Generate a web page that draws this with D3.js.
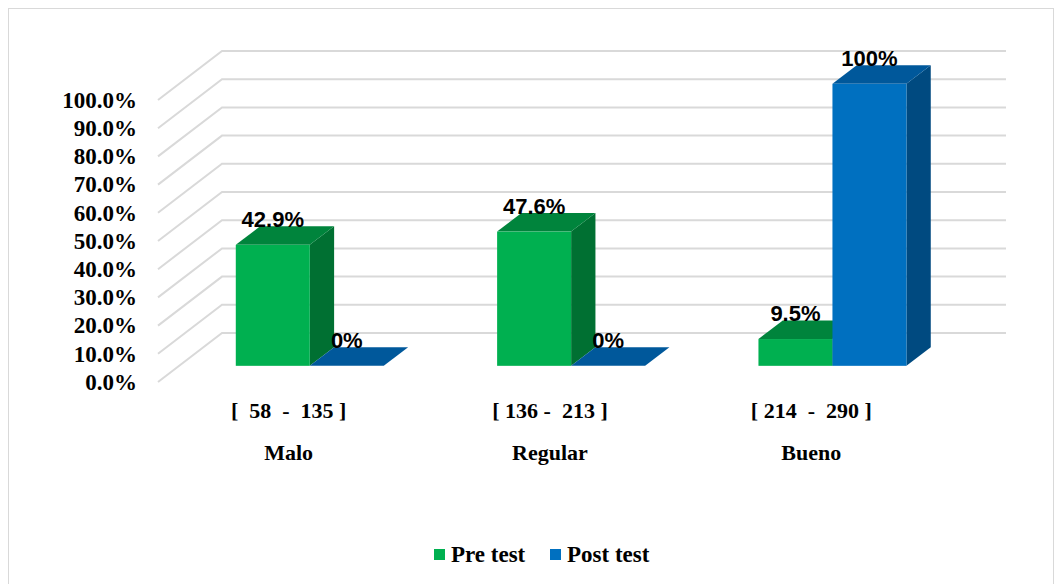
<!DOCTYPE html>
<meta charset="utf-8">
<script src="https://d3js.org/d3.v7.min.js"></script>
<style>
  body { margin: 0; background: #fff; }
</style>
<div id="my_dataviz"></div>
<script>

// data
var categories = ["Malo", "Regular", "Bueno"];
var ranges = ["[  58  -  135 ]", "[ 136 -  213 ]", "[ 214  -  290 ]"];
var series = ["Pre test", "Post test"];
var preTest = [0.429, 0.476, 0.095];
var postTest = [0, 0, 1];
var preLabels = ["42.9%", "47.6%", "9.5%"];
var postLabels = ["0%", "0%", "100%"];
var yTicks = [0, 0.1, 0.2, 0.3, 0.4, 0.5, 0.6, 0.7, 0.8, 0.9, 1];

var W = 1062, H = 584;
var colors = {
  "Pre test":  {front: "#00b050", top: "#00843c", side: "#007032"},
  "Post test": {front: "#0070c0", top: "#00589b", side: "#004a80"}
};

// front plane of the 3d box + depth vector
var depth = {dx: 64, dy: -49};
var t0 = 0.33, t1 = 0.71;   // bars sit between these depth fractions

var x = d3.scaleBand()
  .domain(categories)
  .range([158, 942]);

var y = d3.scaleLinear()
  .domain([0, 1])
  .range([382, 100]);

var svg = d3.select("#my_dataviz")
  .append("svg")
  .attr("width", W)
  .attr("height", H);

svg.append("rect")
  .attr("x", 8.5).attr("y", 8.5)
  .attr("width", W - 17).attr("height", H)
  .attr("fill", "#fff")
  .attr("stroke", "#d9d9d9")
  .attr("stroke-width", 1);

// floor / wall grid lines
var x0 = x.range()[0], x1 = x.range()[1];
svg.append("g")
  .selectAll("path")
  .data(yTicks)
  .enter().append("path")
  .attr("fill", "none")
  .attr("stroke", "#d9d9d9")
  .attr("stroke-width", 2)
  .attr("d", d => "M" + x0 + "," + y(d) +
                  "L" + (x0 + depth.dx) + "," + (y(d) + depth.dy) +
                  "L" + (x1 + depth.dx) + "," + (y(d) + depth.dy));

// y axis labels
svg.append("g")
  .selectAll("text")
  .data(yTicks)
  .enter().append("text")
  .attr("x", 137)
  .attr("y", d => y(d))
  .attr("dy", "0.34em")
  .attr("text-anchor", "end")
  .style("font-family", "'Liberation Serif', 'Times New Roman', serif")
  .style("font-weight", "bold")
  .style("font-size", "23px")
  .text(d => d3.format(".1%")(d));

// bars
var barW = 74;
var bars = [];
categories.forEach((c, i) => {
  var cx = x(c) + x.bandwidth() / 2;
  bars.push({cat: c, s: "Pre test", v: preTest[i], lab: preLabels[i], xl: cx - barW});
  bars.push({cat: c, s: "Post test", v: postTest[i], lab: postLabels[i], xl: cx});
});

var ox = t0 * depth.dx, oy = t0 * depth.dy;
var bx = (t1 - t0) * depth.dx, by = (t1 - t0) * depth.dy;

var g = svg.append("g");
bars.forEach(b => {
  var xl = b.xl + ox, xr = b.xl + barW + ox;
  var yb = y(0) + oy, yt = y(b.v) + oy;
  var col = colors[b.s];
  if (b.v > 0) {
    g.append("path")
      .attr("fill", col.side)
      .attr("d", "M" + xr + "," + yt + "L" + (xr + bx) + "," + (yt + by) +
                 "L" + (xr + bx) + "," + (yb + by) + "L" + xr + "," + yb + "Z");
  }
  g.append("path")
    .attr("fill", col.top)
    .attr("d", "M" + xl + "," + yt + "L" + xr + "," + yt +
               "L" + (xr + bx) + "," + (yt + by) + "L" + (xl + bx) + "," + (yt + by) + "Z");
  if (b.v > 0) {
    g.append("rect")
      .attr("x", xl).attr("y", yt)
      .attr("width", barW).attr("height", yb - yt)
      .attr("fill", col.front);
  }
  b.lx = (xl + xr) / 2;
  b.ly = yt + by + 1;
});

// data labels
svg.append("g")
  .selectAll("text")
  .data(bars)
  .enter().append("text")
  .attr("x", d => d.lx)
  .attr("y", d => d.ly)
  .attr("text-anchor", "middle")
  .style("font-family", "'Liberation Sans', Arial, sans-serif")
  .style("font-weight", "bold")
  .style("font-size", "22px")
  .text(d => d.lab);

// category labels
var cat = svg.append("g")
  .style("font-family", "'Liberation Serif', 'Times New Roman', serif")
  .style("font-weight", "bold")
  .style("font-size", "22px")
  .attr("text-anchor", "middle");
categories.forEach((c, i) => {
  var cx = x(c) + x.bandwidth() / 2;
  cat.append("text").attr("x", cx).attr("y", 418).style("white-space", "pre").attr("xml:space", "preserve").text(ranges[i]);
  cat.append("text").attr("x", cx).attr("y", 460).text(c);
});

// legend
var leg = svg.append("g")
  .style("font-family", "'Liberation Serif', 'Times New Roman', serif")
  .style("font-weight", "bold")
  .style("font-size", "23px");
var legX = [434, 550];
series.forEach((s, i) => {
  leg.append("rect")
    .attr("x", legX[i]).attr("y", 549)
    .attr("width", 11).attr("height", 11)
    .attr("fill", colors[s].front);
  leg.append("text")
    .attr("x", legX[i] + 17).attr("y", 562)
    .text(s);
});

</script>
